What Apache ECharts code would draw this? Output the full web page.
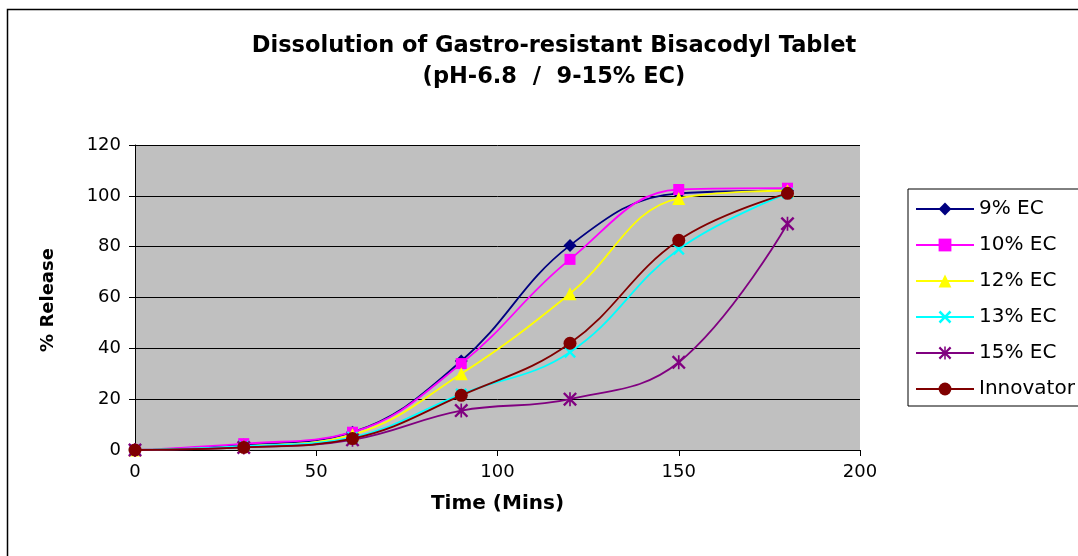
<!DOCTYPE html>
<html>
<head>
<meta charset="utf-8">
<script src="https://cdn.jsdelivr.net/npm/echarts@6/dist/echarts.min.js"></script>
<style>
html,body{margin:0;padding:0;background:#fff;}
#c{width:1078px;height:556px;}
</style>
</head>
<body>
<div id="c"></div>
<script>
const times = [0, 30, 60, 90, 120, 150, 180];
const ec9 = [0, 2, 7, 35, 80.5, 101, 102];
const ec10 = [0, 2.5, 7, 34, 75, 102.5, 103];
const ec12 = [0, 1.5, 6, 30, 61.5, 99, 102];
const ec13 = [0, 1.5, 5, 22, 38.5, 79, 101];
const ec15 = [0, 1, 4, 15.5, 20, 34.5, 89];
const innovator = [0, 1, 4.5, 21.5, 42, 82.5, 101];
const seriesNames = ['9% EC', '10% EC', '12% EC', '13% EC', '15% EC', 'Innovator'];
const xTicks = [0, 50, 100, 150, 200];
const yTicks = [0, 20, 40, 60, 80, 100, 120];

const X_PATH = 'path://M0,1.4 L1.4,0 L5,3.6 L8.6,0 L10,1.4 L6.4,5 L10,8.6 L8.6,10 L5,6.4 L1.4,10 L0,8.6 L3.6,5 Z';
const AST_PATH = 'path://M0,1.2 L1.2,0 L5,3.8 L8.8,0 L10,1.2 L6.2,5 L10,8.8 L8.8,10 L5,6.2 L1.2,10 L0,8.8 L3.8,5 Z M4.4,0 L5.6,0 L5.6,10 L4.4,10 Z';

const styles = [
  {color: '#000080', symbol: 'diamond', size: 13},
  {color: '#FF00FF', symbol: 'rect', size: 11},
  {color: '#FFFF00', symbol: 'triangle', size: 13},
  {color: '#00FFFF', symbol: X_PATH, size: 12},
  {color: '#800080', symbol: AST_PATH, size: 14},
  {color: '#800000', symbol: 'circle', size: 13}
];
const values = [ec9, ec10, ec12, ec13, ec15, innovator];

const chart = echarts.init(document.getElementById('c'), null, {renderer: 'canvas'});
const font = '"DejaVu Sans", Verdana, sans-serif';

chart.setOption({
  animation: false,
  backgroundColor: '#ffffff',
  title: {
    text: 'Dissolution of Gastro-resistant Bisacodyl Tablet\n(pH-6.8  /  9-15% EC)',
    left: 549, top: 26, textAlign: 'center',
    textStyle: {fontFamily: font, fontSize: 22.5, fontWeight: 'bold', color: '#000', lineHeight: 31}
  },
  graphic: [
    {type: 'rect', shape: {x: 7.5, y: 9.5, width: 1200, height: 700}, style: {fill: 'none', stroke: '#000', lineWidth: 1.5}, z: 0},
    {type: 'text', x: 48, y: 300, rotation: Math.PI / 2, style: {text: '% Release', font: 'bold 18px "DejaVu Sans", sans-serif', fill: '#000', align: 'center', verticalAlign: 'middle'}}
  ],
  legend: {
    orient: 'vertical',
    left: 908, top: 189,
    padding: [10, 40, 7, 7],
    itemWidth: 58, itemHeight: 16, itemGap: 16,
    borderColor: '#000', borderWidth: 1,
    textStyle: {fontFamily: font, fontSize: 20, color: '#000'},
    data: seriesNames
  },
  grid: {left: 135, right: 218, top: 145, bottom: 106, show: true, backgroundColor: '#C0C0C0', borderWidth: 0},
  xAxis: {
    type: 'value', min: 0, max: 200, interval: 50,
    name: 'Time (Mins)', nameLocation: 'middle', nameGap: 44,
    nameTextStyle: {fontFamily: font, fontSize: 20, fontWeight: 'bold', color: '#000'},
    axisLine: {lineStyle: {color: '#000', width: 1}},
    axisTick: {show: true, length: 6, lineStyle: {color: '#000'}},
    axisLabel: {fontFamily: font, fontSize: 18, color: '#000', margin: 13},
    splitLine: {show: false}
  },
  yAxis: {
    type: 'value', min: 0, max: 120, interval: 20,
    axisLine: {show: true, lineStyle: {color: '#000', width: 1}},
    axisTick: {show: true, length: 6, lineStyle: {color: '#000'}},
    axisLabel: {fontFamily: font, fontSize: 18, color: '#000', margin: 14},
    splitLine: {show: true, lineStyle: {color: '#000', width: 1}}
  },
  series: seriesNames.map((n, i) => ({
    name: n, type: 'line', smooth: 0.4,
    data: times.map((t, j) => [t, values[i][j]]),
    symbol: styles[i].symbol, symbolSize: styles[i].size,
    lineStyle: {color: styles[i].color, width: 1.8},
    itemStyle: {color: styles[i].color},
    z: 2 + i
  }))
});
</script>
</body>
</html>
